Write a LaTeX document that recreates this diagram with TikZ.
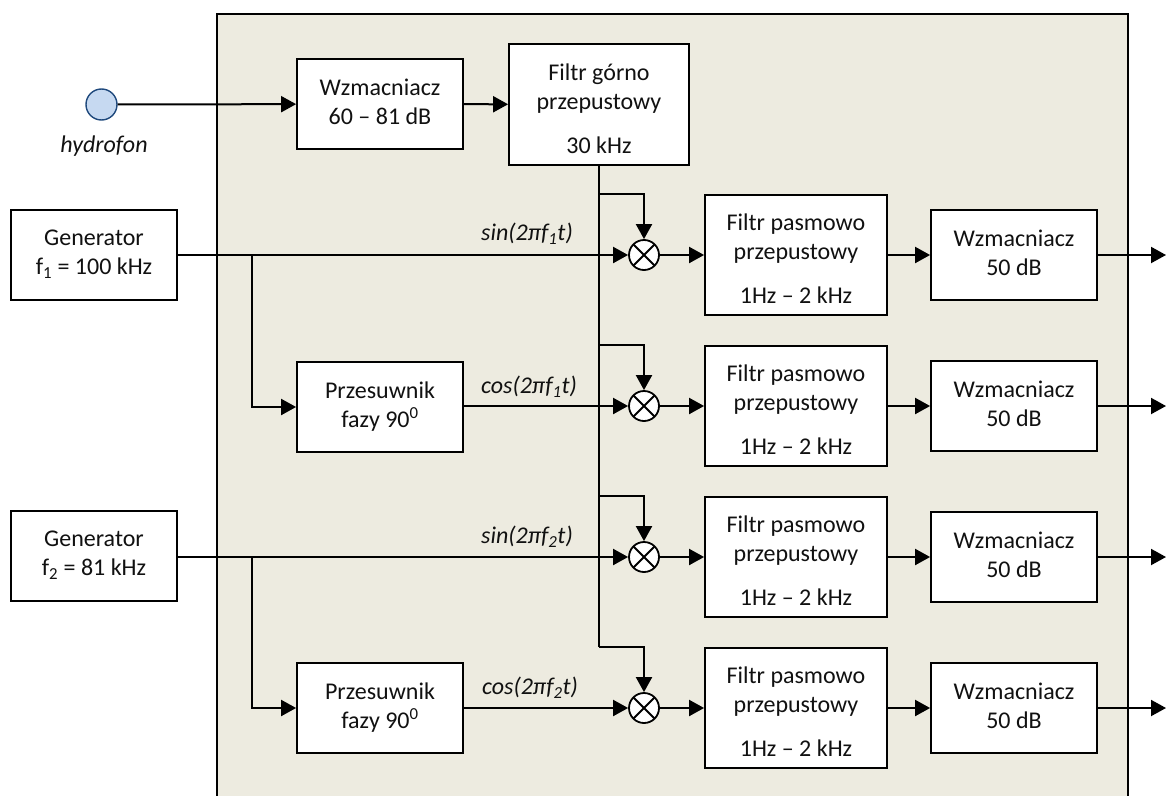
\documentclass[tikz,border=0pt]{standalone}
\usepackage{fontspec}
\setmainfont{Carlito}
\usetikzlibrary{arrows.meta}
\definecolor{panel}{HTML}{EDEBE0}
\definecolor{hfill}{HTML}{C6D9F1}
\definecolor{hline}{HTML}{1F497D}
\definecolor{ink}{HTML}{111111}
\tikzset{
  base/.style={font=\fontsize{24}{29}\selectfont,text=ink,align=center,inner sep=0pt},
  boxa/.style={base,draw=black,line width=1.8pt,fill=white,minimum width=166pt,minimum height=90pt,text depth=5pt},
  boxb/.style={base,draw=black,line width=1.8pt,fill=white,minimum width=182pt,minimum height=120pt,text depth=1pt,text height=98pt},
  sig/.style={base,font=\fontsize{24}{28}\selectfont\itshape},
  mult/.style={circle,draw=black,line width=1.8pt,fill=white,minimum size=30pt,inner sep=0pt,
    path picture={\draw[black,line width=1.8pt]
      (path picture bounding box.north west)--(path picture bounding box.south east)
      (path picture bounding box.north east)--(path picture bounding box.south west);}},
  wire/.style={draw=black,line width=2pt},
  arr/.style={wire,-{Triangle[length=15pt,width=16pt]}},
}
\begin{document}
\begin{tikzpicture}[x=1pt,y=-1pt]
\useasboundingbox (0,0) rectangle (1166,795);
\fill[panel] (217,14) rectangle (1128,796);
\draw[black,line width=1.8pt] (217,796) -- (217,14) -- (1128,14) -- (1128,796);

\node[circle,draw=hline,line width=1.4pt,fill=hfill,minimum size=31pt,inner sep=0pt] (hyd) at (101.5,104.5) {};
\node[sig] (hydl) at (104,146) {hydrofon};

\node[boxa] (g1) at (94,255) {Generator\\f\textsubscript{1} = 100 kHz};
\node[boxa] (g2) at (94,556) {Generator\\f\textsubscript{2} = 81 kHz};
\node[boxa] (w0) at (380,104) {Wzmacniacz\\60 – 81 dB};
\node[boxb,minimum width=180pt,minimum height=121pt] (hp) at (599,104.5) {Filtr górno\\przepustowy\\[15pt]30 kHz};
\node[boxa] (p1) at (380,407) {Przesuwnik\\fazy 90\textsuperscript{0}};
\node[boxa] (p2) at (380,708) {Przesuwnik\\fazy 90\textsuperscript{0}};

\node[mult] (m1) at (644,255) {};
\node[mult] (m2) at (644,406) {};
\node[mult] (m3) at (644,557) {};
\node[mult] (m4) at (644,708) {};

\foreach \i/\y in {1/255,2/406,3/557,4/708}{
  \node[boxb] (f\i) at (796,\y) {Filtr pasmowo\\przepustowy\\[15pt]1Hz – 2 kHz};
  \node[boxa] (a\i) at (1014,\y) {Wzmacniacz\\50 dB};
  \coordinate (o\i) at (1166,\y);
  \draw[arr] (m\i) -- (f\i);
  \draw[arr] (f\i) -- (a\i);
  \draw[arr] (a\i) -- (o\i);
}

\coordinate (b1) at (599,194);
\coordinate (b2) at (599,345);
\coordinate (b3) at (599,496);
\coordinate (b4) at (599,647);
\coordinate (j1) at (252,255);
\coordinate (j2) at (252,557);

\draw[arr] (hyd) -- (w0);
\draw[arr] (w0) -- (hp);
\draw[wire] (hp) -- (b4);
\draw[arr] (b1) -| (m1);
\draw[arr] (b2) -| (m2);
\draw[arr] (b3) -| (m3);
\draw[arr] (b4) -| (m4);
\draw[arr] (g1) -- (m1);
\draw[arr] (g2.east |- m3) -- (m3);
\draw[arr] (j1) |- (p1);
\draw[arr] (j2) |- (p2);
\draw[arr] (p1.east |- m2) -- (m2);
\draw[arr] (p2.east |- m4) -- (m4);

\node[sig] (s1) at (527,234) {sin(2πf\textsubscript{1}t)};
\node[sig] (s2) at (529,387) {cos(2πf\textsubscript{1}t)};
\node[sig] (s3) at (527,537) {sin(2πf\textsubscript{2}t)};
\node[sig] (s4) at (530,688) {cos(2πf\textsubscript{2}t)};
\end{tikzpicture}
\end{document}
